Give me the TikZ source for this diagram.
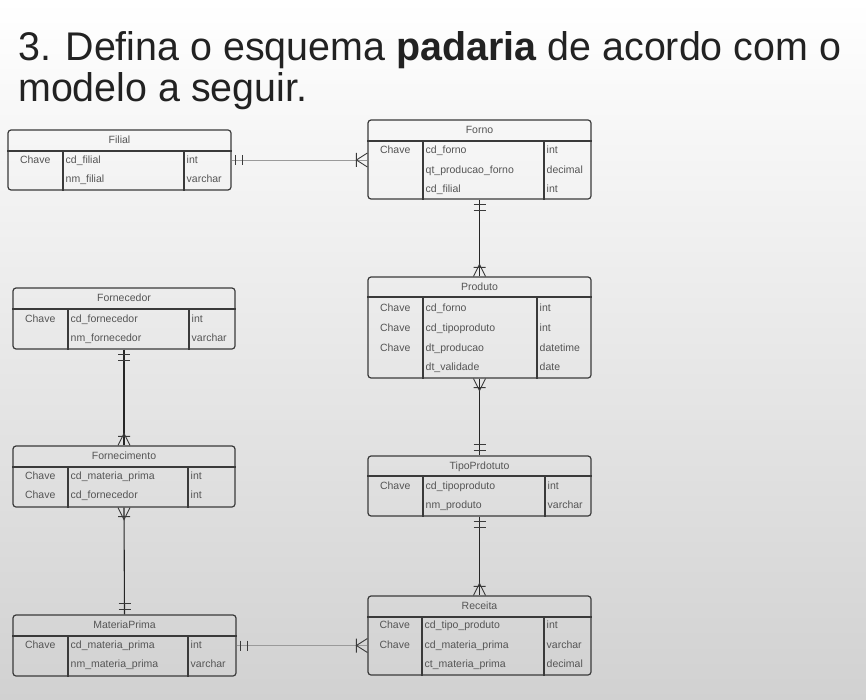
\documentclass[tikz,border=0pt]{standalone}
\usepackage{fontspec}
\setmainfont{Liberation Sans}
\usetikzlibrary{calc,fit}
\definecolor{bordc}{HTML}{3A3A3A}
\definecolor{txtc}{HTML}{555555}
\definecolor{lightln}{HTML}{9A9A9A}
\definecolor{titlec}{HTML}{222222}
\tikzset{
  tbl/.style={draw=bordc, line width=1.2pt, rounded corners=3pt, inner sep=0pt},
  tline/.style={draw=bordc, line width=1.2pt},
  cell/.style={text=txtc, font=\fontsize{10.5}{12}\selectfont, inner sep=0pt, text height=1.6ex, text depth=.35ex},
  hcell/.style={cell},
  vconn/.style={draw=black!85, line width=1.1pt},
  hconn/.style={draw=lightln, line width=0.9pt},
  mk/.style={draw=bordc, line width=0.9pt},
  ttl/.style={text=titlec, anchor=base west, inner sep=0pt, font=\fontsize{40}{46}\selectfont}
}
% #1 name, #2 x1, #3 y1, #4 x2, #5 y2, #6 header y, #7 col1 x, #8 col2 x, #9 title
\newcommand\erbox[9]{%
  \node[tbl, fit={(#2,#3) (#4,#5)}] (#1) {};
  \coordinate (#1-h) at (#2,#6);
  \coordinate (#1-c1) at (#7,#6);
  \coordinate (#1-c2) at (#8,#6);
  \draw[tline] (#1.west |- #1-h) -- (#1.east |- #1-h);
  \draw[tline] (#1-c1) -- (#1-c1 |- #1.south);
  \draw[tline] (#1-c2) -- (#1-c2 |- #1.south);
  \node[hcell] (#1-title) at ($(#1.north)!0.5!(#1.north |- #1-h)$) {#9};
}
% #1 table, #2 row no., #3 y, #4 key, #5 field, #6 type
\newcommand\erow[6]{%
  \coordinate (#1-L#2) at (#1.west |- 0,#3);
  \node[cell] (#1-k#2) at ($(#1-L#2)!0.5!(#1-c1 |- #1-L#2)$) {#4};
  \node[cell, anchor=west] (#1-f#2) at ([xshift=2.5pt]#1-c1 |- #1-L#2) {#5};
  \node[cell, anchor=west] (#1-t#2) at ([xshift=2.5pt]#1-c2 |- #1-L#2) {#6};
}
\newcommand\mkOneR[1]{\draw[mk] ($(#1)+(4,-5)$) -- ++(0,10) ($(#1)+(11,-5)$) -- ++(0,10);}
\newcommand\mkManyL[1]{\draw[mk] ($(#1)+(0,-7)$) -- ($(#1)+(-11,0)$) -- ($(#1)+(0,7)$) ($(#1)+(-11,-7)$) -- ++(0,14);}
\newcommand\mkOneD[1]{\draw[mk] ($(#1)+(-6,5)$) -- ++(12,0) ($(#1)+(-6,11)$) -- ++(12,0);}
\newcommand\mkOneU[1]{\draw[mk] ($(#1)+(-6,-5)$) -- ++(12,0) ($(#1)+(-6,-11)$) -- ++(12,0);}
\newcommand\mkManyU[1]{\draw[mk] ($(#1)+(-6,0)$) -- ($(#1)+(0,-12)$) -- ($(#1)+(6,0)$) ($(#1)+(-6,-9)$) -- ++(12,0);}
\newcommand\mkManyD[1]{\draw[mk] ($(#1)+(-6,0)$) -- ($(#1)+(0,12)$) -- ($(#1)+(6,0)$) ($(#1)+(-6,9)$) -- ++(12,0);}

\begin{document}
\begin{tikzpicture}[x=1pt,y=-1pt]
\useasboundingbox (0,0) rectangle (866,700);
\shade[top color=white, middle color=black!5, bottom color=black!18] (0,0) rectangle (866,700);

\node[ttl] (title1) at (18,61) {\scalebox{0.985}[1]{3. Defina o esquema \textbf{padaria} de acordo com o}};
\node[ttl] (title2) at (18,102) {\scalebox{0.985}[1]{modelo a seguir.}};

\erbox{filial}{8}{130}{231}{190}{151}{63}{184}{Filial}
\erow{filial}{1}{160}{Chave}{cd\_filial}{int}
\erow{filial}{2}{179}{}{nm\_filial}{varchar}

\erbox{forno}{368}{120}{591}{199}{141}{423}{544}{Forno}
\erow{forno}{1}{150}{Chave}{cd\_forno}{int}
\erow{forno}{2}{170}{}{qt\_producao\_forno}{decimal}
\erow{forno}{3}{189}{}{cd\_filial}{int}

\erbox{fornecedor}{13}{288}{235}{349}{309}{68}{189}{Fornecedor}
\erow{fornecedor}{1}{319}{Chave}{cd\_fornecedor}{int}
\erow{fornecedor}{2}{338}{}{nm\_fornecedor}{varchar}

\erbox{produto}{368}{277}{591}{378}{297}{423}{537}{Produto}
\erow{produto}{1}{308}{Chave}{cd\_forno}{int}
\erow{produto}{2}{328}{Chave}{cd\_tipoproduto}{int}
\erow{produto}{3}{348}{Chave}{dt\_producao}{datetime}
\erow{produto}{4}{367}{}{dt\_validade}{date}

\erbox{fornecimento}{13}{446}{235}{507}{467}{68}{188}{Fornecimento}
\erow{fornecimento}{1}{476}{Chave}{cd\_materia\_prima}{int}
\erow{fornecimento}{2}{495}{Chave}{cd\_fornecedor}{int}

\erbox{tipoproduto}{368}{456}{591}{516}{476}{423}{545}{TipoPrdotuto}
\erow{tipoproduto}{1}{486}{Chave}{cd\_tipoproduto}{int}
\erow{tipoproduto}{2}{505}{}{nm\_produto}{varchar}

\erbox{materiaprima}{13}{615}{236}{676}{636}{68}{188}{MateriaPrima}
\erow{materiaprima}{1}{645}{Chave}{cd\_materia\_prima}{int}
\erow{materiaprima}{2}{664}{}{nm\_materia\_prima}{varchar}

\erbox{receita}{368}{596}{591}{675}{617}{422}{544}{Receita}
\erow{receita}{1}{625}{Chave}{cd\_tipo\_produto}{int}
\erow{receita}{2}{645}{Chave}{cd\_materia\_prima}{varchar}
\erow{receita}{3}{664}{}{ct\_materia\_prima}{decimal}

% connectors
\draw[hconn] (filial.east) -- (forno.west |- filial.east);
\mkOneR{filial.east}
\mkManyL{forno.west |- filial.east}

\draw[vconn] (forno.south) -- (produto.north);
\mkOneD{forno.south}
\mkManyU{produto.north}

\draw[vconn] (produto.south) -- (tipoproduto.north);
\mkManyD{produto.south}
\mkOneU{tipoproduto.north}

\draw[vconn] (tipoproduto.south) -- (receita.north);
\mkOneD{tipoproduto.south}
\mkManyU{receita.north}

\draw[vconn] (fornecedor.south) -- (fornecimento.north);
\mkOneD{fornecedor.south}
\mkManyU{fornecimento.north}

\draw[vconn] (fornecimento.south) -- (materiaprima.north);
\mkManyD{fornecimento.south}
\mkOneU{materiaprima.north}

\draw[hconn] (materiaprima.east) -- (receita.west |- materiaprima.east);
\mkOneR{materiaprima.east}
\mkManyL{receita.west |- materiaprima.east}
\end{tikzpicture}
\end{document}
